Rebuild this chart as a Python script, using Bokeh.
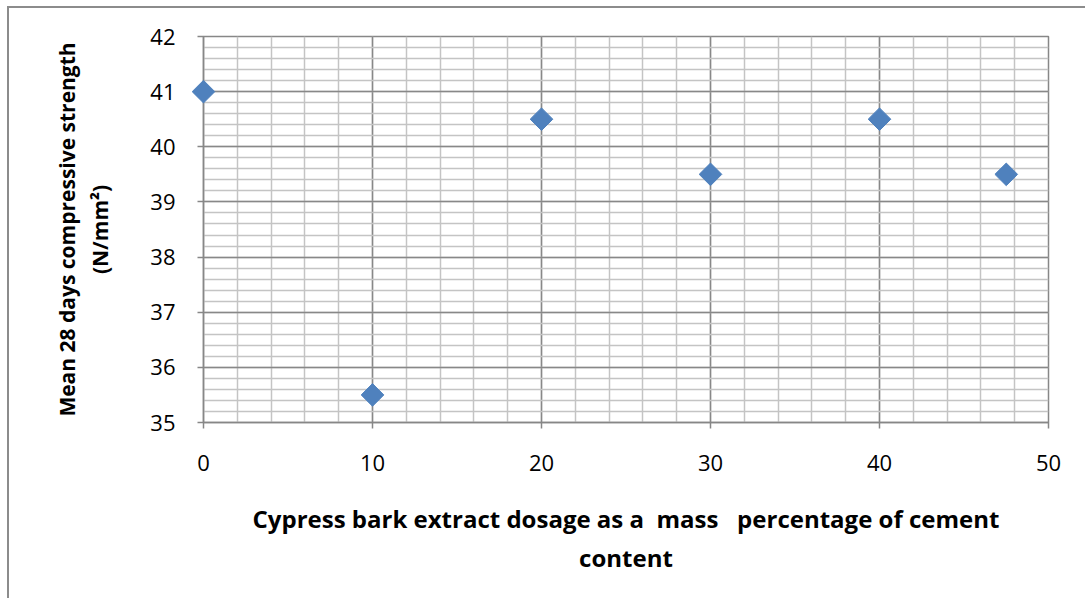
from bokeh.plotting import figure
from bokeh.models import Range1d, FixedTicker
from bokeh.embed import file_html
from bokeh.resources import INLINE
import math

dosage = [0, 10, 20, 30, 40, 47.5]
strength = [41, 35.5, 40.5, 39.5, 40.5, 39.5]
x_ticks = [0, 10, 20, 30, 40, 50]
y_ticks = [35, 36, 37, 38, 39, 40, 41, 42]
x_minor = [v for v in range(0, 51, 2)]
y_minor = [35 + i * 0.2 for i in range(36)]

W, H = 1078, 592
p = figure(width=W, height=H, output_backend="svg", toolbar_location=None,
           x_range=Range1d(0, 50), y_range=Range1d(35, 42),
           min_border_left=194, min_border_top=28,
           min_border_right=39, min_border_bottom=178)
p.margin = (6, 0, 0, 7)
p.styles = {"border-left": "2px solid #8c8c8c", "border-top": "2px solid #8c8c8c"}

p.background_fill_color = "white"
p.border_fill_color = "white"
p.outline_line_color = "#878787"
p.outline_line_width = 1.5

grid_major = "#888888"
grid_minor = "#c4c4c4"

p.xaxis.ticker = FixedTicker(ticks=x_ticks, minor_ticks=x_minor)
p.yaxis.ticker = FixedTicker(ticks=y_ticks, minor_ticks=y_minor)

for g in (p.xgrid, p.ygrid):
    g.grid_line_color = grid_major
    g.grid_line_width = 1.5
    g.minor_grid_line_color = grid_minor
    g.minor_grid_line_width = 1.5

for ax in (p.xaxis, p.yaxis):
    ax.axis_line_color = "#878787"
    ax.axis_line_width = 1.5
    ax.major_tick_line_color = "#878787"
    ax.major_tick_line_width = 1.5
    ax.major_tick_out = 6
    ax.major_tick_in = 0
    ax.minor_tick_line_color = None
    ax.major_label_text_font = "Open Sans"
    ax.major_label_text_font_size = "22px"
    ax.major_label_text_color = "black"
    ax.axis_label_text_font = "Open Sans"
    ax.axis_label_text_font_style = "bold"
    ax.axis_label_text_color = "black"

p.xaxis.axis_label_text_font_size = "24px"
p.yaxis.axis_label_text_font_size = "21px"

p.xaxis.major_label_standoff = 26
p.yaxis.major_label_standoff = 22
p.xaxis.axis_label = "Cypress bark extract dosage as a\u00a0 mass\u00a0\u00a0 percentage of cement\ncontent"
p.xaxis.axis_label_standoff = 28
p.yaxis.axis_label = "Mean 28 days compressive strength\n(N/mm\u00b2)"
p.yaxis.axis_label_standoff = 33

r = p.scatter(dosage, strength, marker="square", size=16, angle=math.pi / 4,
              fill_color="#4F81BD", line_color="#4F81BD")
r.level = "overlay"

open("out.html", "w").write(file_html(p, INLINE))
